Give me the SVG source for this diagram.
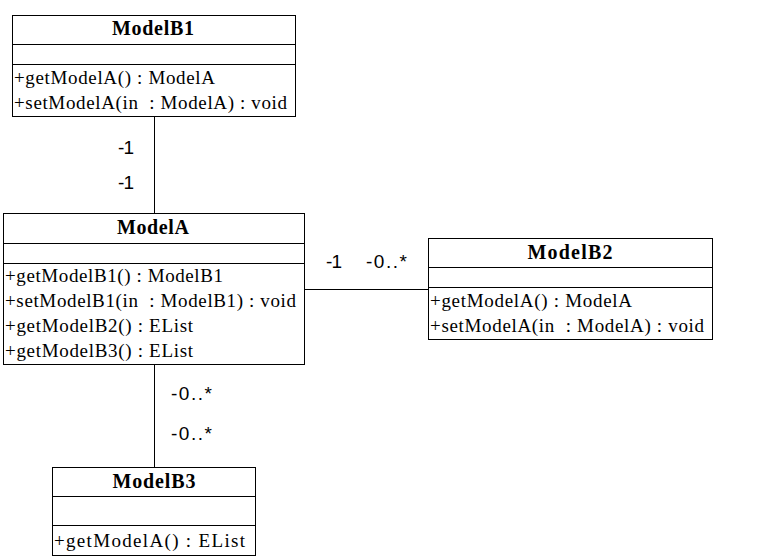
<svg xmlns="http://www.w3.org/2000/svg" width="771" height="560" viewBox="0 0 771 560">
<style>
.box{fill:#fff;stroke:#000;stroke-width:1}
.div{stroke:#000;stroke-width:1}
.t{font-family:"Liberation Serif","Times New Roman",serif;font-size:20px;font-weight:bold;fill:#000;text-anchor:middle}
.m{font-family:"Liberation Serif","Times New Roman",serif;font-size:19px;fill:#000;white-space:pre}
.lbl{font-family:"Liberation Sans",Arial,sans-serif;font-size:19px;fill:#000}
.c{stroke:#000;stroke-width:1;fill:none}
</style>
<rect width="771" height="560" fill="#fff"/>
<g id="connectors">
<line class="c" x1="154.5" y1="116.5" x2="154.5" y2="213.5"/>
<line class="c" x1="304.5" y1="289.5" x2="428.5" y2="289.5"/>
<line class="c" x1="154.5" y1="364.5" x2="154.5" y2="467.5"/>
<text class="lbl" x="118" y="154" textLength="16" lengthAdjust="spacing">-1</text>
<text class="lbl" x="118" y="189" textLength="16" lengthAdjust="spacing">-1</text>
<text class="lbl" x="326" y="268" textLength="16" lengthAdjust="spacing">-1</text>
<text class="lbl" x="366" y="268" textLength="41" lengthAdjust="spacing">-0..*</text>
<text class="lbl" x="171" y="400" textLength="41" lengthAdjust="spacing">-0..*</text>
<text class="lbl" x="171" y="440" textLength="41" lengthAdjust="spacing">-0..*</text>
</g>
<g id="ModelB1">
<rect class="box" x="12.5" y="15.5" width="283" height="101"/>
<line class="div" x1="12.5" y1="44.5" x2="295.5" y2="44.5"/>
<line class="div" x1="12.5" y1="64.5" x2="295.5" y2="64.5"/>
<text class="t" x="153" y="35" textLength="82" lengthAdjust="spacing">ModelB1</text>
<text class="m" x="14" y="84" textLength="201" lengthAdjust="spacing">+getModelA() : ModelA</text>
<text class="m" x="14" y="109" textLength="273" lengthAdjust="spacing">+setModelA(in  : ModelA) : void</text>
</g>
<g id="ModelA">
<rect class="box" x="3.5" y="213.5" width="301" height="151"/>
<line class="div" x1="3.5" y1="243.5" x2="304.5" y2="243.5"/>
<line class="div" x1="3.5" y1="263.5" x2="304.5" y2="263.5"/>
<text class="t" x="153" y="234" textLength="72" lengthAdjust="spacing">ModelA</text>
<text class="m" x="5" y="282" textLength="218" lengthAdjust="spacing">+getModelB1() : ModelB1</text>
<text class="m" x="5" y="307" textLength="291" lengthAdjust="spacing">+setModelB1(in  : ModelB1) : void</text>
<text class="m" x="5" y="332" textLength="188" lengthAdjust="spacing">+getModelB2() : EList</text>
<text class="m" x="5" y="357" textLength="188" lengthAdjust="spacing">+getModelB3() : EList</text>
</g>
<g id="ModelB2">
<rect class="box" x="428.5" y="238.5" width="284" height="101"/>
<line class="div" x1="428.5" y1="267.5" x2="712.5" y2="267.5"/>
<line class="div" x1="428.5" y1="287.5" x2="712.5" y2="287.5"/>
<text class="t" x="570" y="259" textLength="85" lengthAdjust="spacing">ModelB2</text>
<text class="m" x="430" y="307" textLength="202" lengthAdjust="spacing">+getModelA() : ModelA</text>
<text class="m" x="430" y="332" textLength="274" lengthAdjust="spacing">+setModelA(in  : ModelA) : void</text>
</g>
<g id="ModelB3">
<rect class="box" x="52.5" y="467.5" width="203" height="88"/>
<line class="div" x1="52.5" y1="496.5" x2="255.5" y2="496.5"/>
<line class="div" x1="52.5" y1="525.5" x2="255.5" y2="525.5"/>
<text class="t" x="154" y="488" textLength="83" lengthAdjust="spacing">ModelB3</text>
<text class="m" x="54" y="547" textLength="191" lengthAdjust="spacing">+getModelA() : EList</text>
</g>
</svg>
